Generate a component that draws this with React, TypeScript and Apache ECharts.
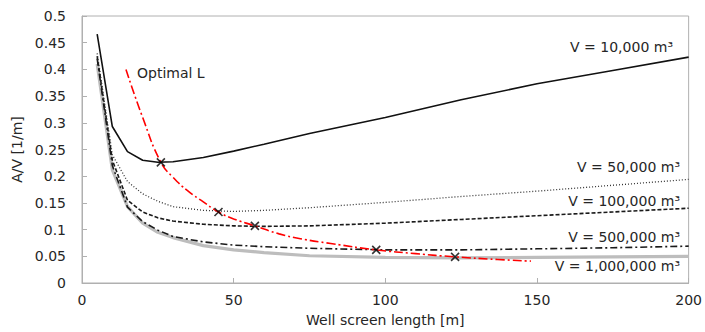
import React, { useEffect, useRef } from "react";
import * as echarts from "echarts";

const xTicks = [0, 50, 100, 150, 200];
const yTicks = [0, 0.05, 0.1, 0.15, 0.2, 0.25, 0.3, 0.35, 0.4, 0.45, 0.5];

const lengths = [5, 10, 15, 20, 25, 30, 40, 50, 60, 75, 100, 125, 150, 175, 200];
const v10k = [0.466, 0.293, 0.246, 0.23, 0.226, 0.227, 0.235, 0.247, 0.26, 0.28, 0.31, 0.343, 0.373, 0.398, 0.423];
const v50k = [0.43, 0.24, 0.19, 0.167, 0.153, 0.143, 0.136, 0.134, 0.136, 0.141, 0.151, 0.162, 0.172, 0.183, 0.194];
const v100k = [0.425, 0.23, 0.155, 0.133, 0.122, 0.116, 0.11, 0.107, 0.106, 0.107, 0.112, 0.119, 0.126, 0.133, 0.14];
const v500k = [0.42, 0.22, 0.142, 0.115, 0.099, 0.087, 0.077, 0.071, 0.068, 0.065, 0.062, 0.062, 0.064, 0.066, 0.069];
const v1m = [0.41, 0.212, 0.143, 0.112, 0.095, 0.085, 0.07, 0.062, 0.057, 0.051, 0.048, 0.047, 0.048, 0.049, 0.05];

const optimalL = [14.5, 20, 26, 30, 35, 40, 45, 50, 57, 65, 72, 82, 97, 110, 123, 137, 148];
const optimalAV = [0.4, 0.31, 0.226, 0.198, 0.172, 0.152, 0.133, 0.12, 0.107, 0.092, 0.083, 0.074, 0.062, 0.055, 0.049, 0.044, 0.041];

const optimumL = [26, 45, 57, 97, 123];
const optimumAV = [0.226, 0.133, 0.107, 0.062, 0.049];

const curveLabels = ["V = 10,000 m³", "V = 50,000 m³", "V = 100,000 m³", "V = 500,000 m³", "V = 1,000,000 m³"];

const FONT = "DejaVu Sans";
const TXT = "#262626";
const AXIS = "#b0b0b0";

const pair = (xs: number[], ys: number[]) => xs.map((x, i) => [x, ys[i]]);

export default function App() {
  const ref = useRef<HTMLDivElement>(null);
  useEffect(() => {
    if (!ref.current) return;
    const chart = echarts.init(ref.current, undefined, { renderer: "svg" });
    const lineBase = (name: string, ys: number[], style: any, z: number) => ({
      type: "line",
      name,
      data: pair(lengths, ys),
      showSymbol: false,
      symbol: "none",
      smooth: false,
      lineStyle: style,
      z,
    });
    const labelPos = [
      { x: 673, y: 47 },
      { x: 680, y: 167 },
      { x: 680, y: 201 },
      { x: 680, y: 237 },
      { x: 680, y: 266 },
    ];
    chart.setOption({
      animation: false,
      grid: {
        left: 82,
        right: 13,
        top: 16,
        bottom: 49,
        show: true,
        borderColor: AXIS,
        borderWidth: 1,
        backgroundColor: "transparent",
      },
      xAxis: {
        type: "value",
        min: xTicks[0],
        max: xTicks[xTicks.length - 1],
        interval: 50,
        name: "Well screen length [m]",
        nameLocation: "middle",
        nameGap: 30,
        nameTextStyle: { fontFamily: FONT, fontSize: 14, color: TXT },
        axisLine: { lineStyle: { color: AXIS, width: 1 } },
        axisTick: { inside: true, length: 5, lineStyle: { color: AXIS } },
        axisLabel: { fontFamily: FONT, fontSize: 14, color: TXT, margin: 10 },
        splitLine: { show: false },
      },
      yAxis: {
        type: "value",
        min: yTicks[0],
        max: yTicks[yTicks.length - 1],
        interval: 0.05,
        name: "A/V [1/m]",
        nameLocation: "middle",
        nameRotate: 90,
        nameGap: 58,
        nameTextStyle: { fontFamily: FONT, fontSize: 14, color: TXT },
        axisLine: { show: true, lineStyle: { color: AXIS, width: 1 } },
        axisTick: { show: true, inside: true, length: 5, lineStyle: { color: AXIS } },
        axisLabel: {
          fontFamily: FONT,
          fontSize: 14,
          color: TXT,
          margin: 16,
          formatter: (v: number) => String(+v.toFixed(2)),
        },
        splitLine: { show: false },
      },
      series: [
        lineBase("V = 1,000,000", v1m, { color: "#bdbdbd", width: 3.2 }, 1),
        lineBase("V = 500,000", v500k, { color: "#1a1a1a", width: 1.6, type: [7, 3, 2, 3] }, 2),
        lineBase("V = 100,000", v100k, { color: "#1a1a1a", width: 1.6, type: [4, 2] }, 2),
        lineBase("V = 50,000", v50k, { color: "#333", width: 1.3, type: [1, 2] }, 2),
        lineBase("V = 10,000", v10k, { color: "#111", width: 1.6 }, 2),
        {
          type: "line",
          name: "Optimal L",
          data: pair(optimalL, optimalAV),
          showSymbol: false,
          symbol: "none",
          smooth: true,
          lineStyle: { color: "#ff0000", width: 1.6, type: [9, 3, 2, 3] },
          z: 3,
        },
        {
          type: "scatter",
          name: "optimum",
          data: pair(optimumL, optimumAV),
          symbol: "path://M0,0L10,10M10,0L0,10",
          symbolSize: 8,
          itemStyle: { color: "transparent", borderColor: "#000", borderWidth: 1.6 },
          z: 4,
        },
      ],
      graphic: [
        {
          type: "text",
          left: 137,
          top: 66,
          style: { text: "Optimal L", fontFamily: FONT, fontSize: 14, fill: TXT },
        },
        ...curveLabels.map((t, i) => ({
          type: "text",
          x: labelPos[i].x,
          y: labelPos[i].y,
          style: {
            text: t,
            fontFamily: FONT,
            fontSize: 14,
            fill: TXT,
            align: "right",
            verticalAlign: "middle",
          },
        })),
      ],
    });
    return () => chart.dispose();
  }, []);
  return (
    <div
      ref={ref}
      style={{ position: "fixed", left: 0, top: 0, width: 705, height: 332, background: "#fff" }}
    />
  );
}
